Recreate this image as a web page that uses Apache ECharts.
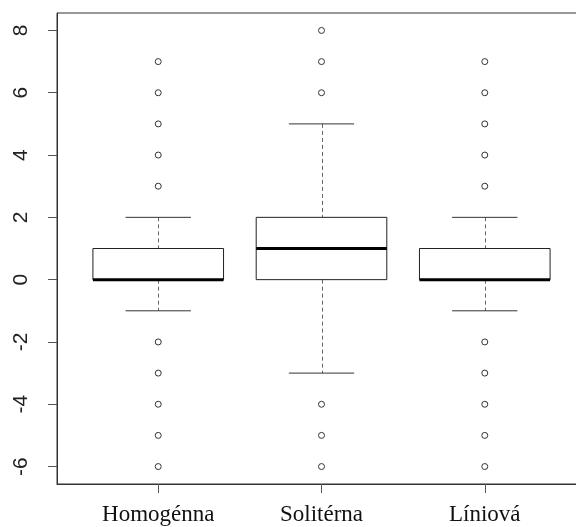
<!DOCTYPE html>
<html>
<head>
<meta charset="utf-8">
<script src="https://cdn.jsdelivr.net/npm/echarts@6/dist/echarts.min.js"></script>
<style>
  html, body { margin: 0; background: #fff; }
  #chart { width: 576px; height: 527px; }
</style>
</head>
<body>
<div id="chart"></div>
<script>
// kategórie
var categories = ['Homogénna', 'Solitérna', 'Líniová'];
// [dolný fúz, Q1, medián, Q3, horný fúz]
var boxStats = [
  [-1, 0, 0, 1, 2],
  [-3, 0, 1, 2, 5],
  [-1, 0, 0, 1, 2]
];
// odľahlé hodnoty
var outliers = [
  [-6, -5, -4, -3, -2, 3, 4, 5, 6, 7],
  [-6, -5, -4, 6, 7, 8],
  [-6, -5, -4, -3, -2, 3, 4, 5, 6, 7]
];
var yTicks = [-6, -4, -2, 0, 2, 4, 6, 8];
var xTicks = [1, 2, 3];

var chart = echarts.init(document.getElementById('chart'));

var boxData = boxStats.map(function (s, i) { return [i + 1].concat(s); });
var outlierData = [];
outliers.forEach(function (list, i) {
  list.forEach(function (v) { outlierData.push([i + 1, v]); });
});

/* vykreslenie jedného boxu */
function renderBox(params, api) {
  var x = api.value(0);
  var lo = api.coord([x, api.value(1)]);
  var q1 = api.coord([x, api.value(2)]);
  var med = api.coord([x, api.value(3)]);
  var q3 = api.coord([x, api.value(4)]);
  var hi = api.coord([x, api.value(5)]);
  var left = api.coord([x - 0.4, 0])[0];
  var right = api.coord([x + 0.4, 0])[0];
  var capL = api.coord([x - 0.2, 0])[0];
  var capR = api.coord([x + 0.2, 0])[0];
  var cx = Math.round(lo[0]) + 0.5;
  var dash = { stroke: '#666', lineWidth: 1, lineDash: [4, 3] };
  var solid = { stroke: '#333', lineWidth: 1 };
  return {
    type: 'group',
    children: [
      { type: 'line', shape: { x1: cx, y1: hi[1], x2: cx, y2: q3[1] }, style: dash },
      { type: 'line', shape: { x1: cx, y1: q1[1], x2: cx, y2: lo[1] }, style: dash },
      { type: 'line', shape: { x1: capL, y1: hi[1], x2: capR, y2: hi[1] }, style: solid },
      { type: 'line', shape: { x1: capL, y1: lo[1], x2: capR, y2: lo[1] }, style: solid },
      { type: 'rect', shape: { x: left, y: q3[1], width: right - left, height: q1[1] - q3[1] },
        style: { fill: '#fff', stroke: '#222', lineWidth: 1 } },
      { type: 'line', shape: { x1: left, y1: med[1], x2: right, y2: med[1] },
        style: { stroke: '#000', lineWidth: 3 } }
    ]
  };
}

var option = {
  animation: false,
  backgroundColor: '#fff',
  grid: {
    left: 57, top: 13, width: 529, height: 471,
    outerBoundsMode: 'none',
    containLabel: false,
    show: true, borderColor: '#333', borderWidth: 1
  },
  xAxis: {
    type: 'value',
    min: 0.38,
    max: 3.62,
    splitLine: { show: false },
    axisLine: { show: true, onZero: false, lineStyle: { color: '#333' } },
    axisTick: { show: true, customValues: xTicks, length: 9, lineStyle: { color: '#555' } },
    axisLabel: {
      customValues: xTicks,
      formatter: function (v) { return categories[Math.round(v) - 1]; },
      fontFamily: 'Liberation Serif',
      fontSize: 23,
      color: '#111',
      margin: 19
    }
  },
  yAxis: {
    type: 'value',
    min: -6.56,
    max: 8.56,
    splitLine: { show: false },
    axisLine: { show: true, onZero: false, lineStyle: { color: '#333' } },
    axisTick: { show: true, customValues: yTicks, length: 9, lineStyle: { color: '#555' } },
    axisLabel: {
      customValues: yTicks,
      rotate: 90,
      fontFamily: 'Liberation Sans',
      fontSize: 21,
      color: '#222',
      margin: 25
    }
  },
  series: [
    {
      type: 'custom',
      renderItem: renderBox,
      encode: { x: 0, y: [1, 2, 3, 4, 5] },
      data: boxData,
      z: 2
    },
    {
      type: 'scatter',
      symbol: 'circle',
      symbolSize: 6,
      itemStyle: { color: '#fff', borderColor: '#333', borderWidth: 1, opacity: 1 },
      data: outlierData,
      z: 3
    }
  ]
};

chart.setOption(option);
</script>
</body>
</html>
